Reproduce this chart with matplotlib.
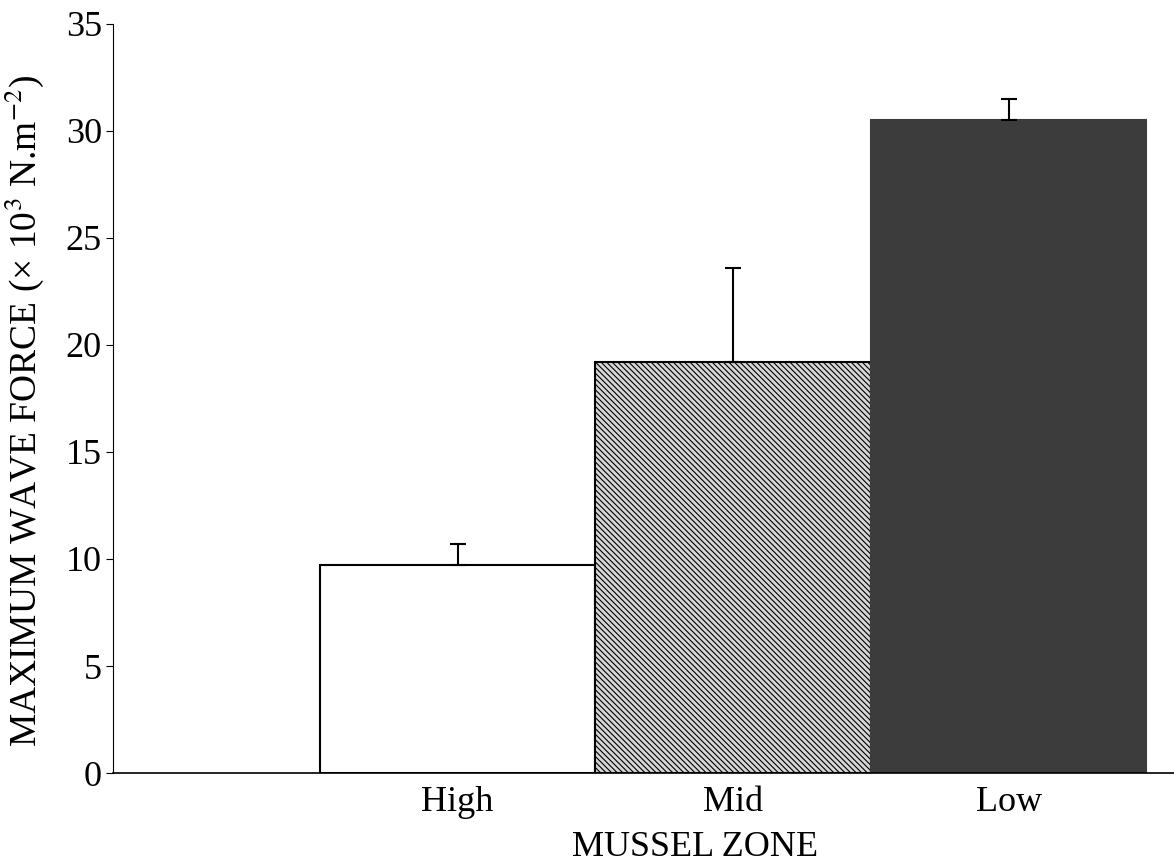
import matplotlib.pyplot as plt
import numpy as np

# maximum wave force per mussel zone (x 10^3 N.m^-2), mean and upper SE
zones = ['High', 'Mid', 'Low']
force = [9.7, 19.2, 30.5]
force_err = [1.0, 4.4, 1.0]

plt.rcParams['font.family'] = ['Liberation Serif', 'DejaVu Serif']
plt.rcParams['mathtext.fontset'] = 'stix'
plt.rcParams['hatch.linewidth'] = 0.8

fig = plt.figure(figsize=(11.74, 8.64), dpi=100)
ax = fig.add_axes([0.0963, 0.1053, 0.9037, 0.867])

pos = np.arange(len(zones)) + 1
faces = ['white', '#d6d6d6', '#3c3c3c']
edges = ['black', 'black', '#3c3c3c']
hatches = ['', '\\\\\\\\\\\\', '']

bars = ax.bar(pos, force, width=1.0, color=faces, edgecolor=edges, linewidth=1.5, zorder=2)
for b, h in zip(bars, hatches):
    b.set_hatch(h)

ax.errorbar(pos, force, yerr=[np.zeros(len(force)), force_err], fmt='none',
            ecolor='black', elinewidth=1.5, capsize=6, capthick=1.5, zorder=3)

ax.set_xlim(-0.25, 3.6)
ax.set_ylim(0, 35)
ax.set_yticks(np.arange(0, 36, 5))
ax.set_xticks(pos)
ax.set_xticklabels(zones)
ax.tick_params(axis='x', length=0, labelsize=26, pad=9)
ax.tick_params(axis='y', length=5, width=0.8, labelsize=26, pad=3)

for s in ['top', 'right']:
    ax.spines[s].set_visible(False)
ax.spines['left'].set_linewidth(0.8)
ax.spines['bottom'].set_linewidth(1.2)

ax.set_xlabel('MUSSEL ZONE', fontsize=26)
ax.xaxis.set_label_coords(0.5485, -0.078)
ax.set_ylabel('MAXIMUM WAVE FORCE (\u00d7 10$^{3}$ N.m$^{-2}$)', fontsize=27)
ax.yaxis.set_label_coords(-0.063, 0.484)

fig.savefig('out.png', dpi=100)
